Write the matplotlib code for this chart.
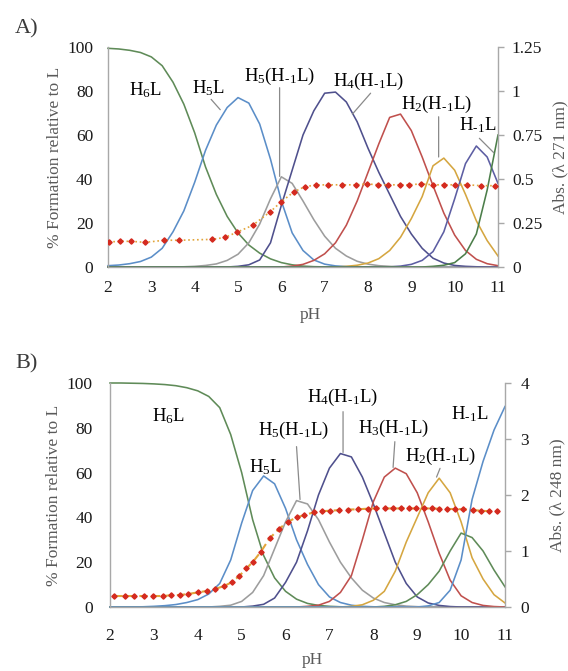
import matplotlib
matplotlib.use('Agg')
import matplotlib.pyplot as plt

plt.rcParams['font.family'] = ['Liberation Serif', 'DejaVu Serif']
plt.rcParams['mathtext.fontset'] = 'custom'
plt.rcParams['mathtext.rm'] = 'Liberation Serif'
plt.rcParams['mathtext.it'] = 'Liberation Serif:italic'
plt.rcParams['mathtext.bf'] = 'Liberation Serif:bold'

# ---------------- data ----------------
ph = [2.0, 2.25, 2.5, 2.75, 3.0, 3.25, 3.5, 3.75, 4.0, 4.25, 4.5, 4.75, 5.0, 5.25,
      5.5, 5.75, 6.0, 6.25, 6.5, 6.75, 7.0, 7.25, 7.5, 7.75, 8.0, 8.25, 8.5, 8.75,
      9.0, 9.25, 9.5, 9.75, 10.0, 10.25, 10.5, 10.75, 11.0]

# Panel A species (% formation)
a_H6L = [99.4, 99.1, 98.5, 97.5, 95.5, 91.5, 84, 74, 61, 45.5, 33, 23, 15.5, 10, 6.3, 3.7,
         2, 1, 0.4, 0.15, 0.05] + [0] * 16
a_H5L = [0.6, 0.9, 1.5, 2.5, 4.5, 8.5, 16, 25.5, 38.5, 53, 64.5, 72.5, 77, 74.5, 65, 49,
         30, 15.5, 7.5, 3.2, 1.3, 0.5, 0.2, 0.05] + [0] * 13
a_H5HL = [0] * 7 + [0.1, 0.3, 0.7, 1.4, 3, 5.8, 11, 19.5, 31, 41, 38, 30, 21.5, 14, 8.5, 5,
                    2.6, 1.3, 0.6, 0.3, 0.1] + [0] * 9
a_H4HL = [0] * 12 + [0.3, 1, 3.2, 11, 28, 44, 60, 71, 79, 79.5, 75, 66, 54, 43, 33, 23, 15,
                     8.5, 4, 1.8, 0.7, 0.3, 0.1, 0, 0]
a_H3HL = [0] * 17 + [0.4, 1.2, 3, 6, 11, 19, 30, 43, 56, 68, 69.5, 62, 50, 37, 24.5, 14.5,
                     7.5, 3.5, 1.5, 0.6]
a_H2HL = [0] * 22 + [0.3, 0.8, 1.8, 3.8, 7.5, 13.5, 22, 32, 46, 49.5, 44, 33, 21, 12, 5]
a_HHL = [0] * 27 + [0.4, 1.2, 3, 7, 16, 31, 47, 55, 50, 38]
a_Hm1L = [0] * 30 + [0.3, 0.8, 2, 6, 15, 35, 60]

# Panel A absorbance (271 nm)
a_abs_ph = [2.02, 2.27, 2.53, 2.86, 3.30, 3.63, 4.40, 4.70, 4.97, 5.34, 5.75, 6.00, 6.29,
            6.54, 6.79, 7.08, 7.40, 7.73, 7.97, 8.24, 8.47, 8.73, 8.94, 9.22, 9.51, 9.76,
            10.01, 10.29, 10.61, 10.92]
a_abs = [0.142, 0.146, 0.146, 0.140, 0.152, 0.152, 0.157, 0.168, 0.197, 0.237, 0.315,
         0.371, 0.427, 0.456, 0.466, 0.467, 0.467, 0.467, 0.472, 0.467, 0.467, 0.467,
         0.467, 0.472, 0.467, 0.467, 0.467, 0.467, 0.462, 0.462]

# Panel B species (% formation)
b_H6L = [100, 100, 99.9, 99.8, 99.6, 99.3, 98.8, 97.9, 96.5, 94, 89, 77, 60, 39, 23, 13,
         7, 3.5, 1.6, 0.7, 0.3, 0.1] + [0] * 15
b_H5L = [0, 0, 0.05, 0.1, 0.3, 0.6, 1.1, 2, 3.3, 5.8, 10.5, 21, 37.5, 52, 58.5, 55, 44,
         30, 19, 10, 4.5, 2, 0.8, 0.3, 0.1] + [0] * 12
b_H5HL = [0] * 10 + [0.3, 0.8, 2.5, 6.5, 14, 26, 38, 47.5, 46, 39, 29, 20, 13, 7.5, 4, 2,
                     1, 0.4, 0.15] + [0] * 8
b_H4HL = [0] * 13 + [0.4, 1.2, 4, 11, 20, 34, 50, 62, 68.5, 67, 58, 46, 33, 20, 10.5, 4.5,
                     1.8, 0.7, 0.2] + [0] * 5
b_H3HL = [0] * 18 + [0.3, 0.8, 2.5, 6.5, 14, 30, 47, 58, 62, 59.5, 51, 38, 24, 12, 5, 2,
                     0.7, 0.2, 0]
b_H2HL = [0] * 22 + [0.3, 1, 3, 7, 16, 29, 40, 51, 57.5, 51, 38, 22, 12.5, 5.5, 1.8]
b_HHL = [0] * 25 + [0.3, 1, 2.5, 5.5, 10, 16, 25, 33, 31, 25, 16.5, 9]
b_Hm1L = [0] * 29 + [0.5, 2, 7.5, 21, 48, 65, 79, 89.5]

# Panel B absorbance (248 nm)
b_abs_ph = [2.10, 2.34, 2.55, 2.77, 2.99, 3.21, 3.39, 3.59, 3.78, 4.01, 4.20, 4.39, 4.60,
            4.77, 4.94, 5.11, 5.26, 5.44, 5.64, 5.86, 6.05, 6.25, 6.42, 6.64, 6.82, 7.02,
            7.22, 7.43, 7.64, 7.87, 8.07, 8.26, 8.45, 8.64, 8.81, 8.97, 9.16, 9.33, 9.49,
            9.67, 9.86, 10.05, 10.26, 10.45, 10.63, 10.81]
b_abs = [0.196, 0.196, 0.196, 0.196, 0.196, 0.196, 0.21, 0.214, 0.232, 0.262, 0.286, 0.32,
         0.375, 0.44, 0.55, 0.69, 0.81, 0.99, 1.23, 1.40, 1.52, 1.60, 1.64, 1.69, 1.71,
         1.72, 1.73, 1.74, 1.745, 1.755, 1.76, 1.76, 1.76, 1.76, 1.76, 1.76, 1.76, 1.76,
         1.755, 1.75, 1.75, 1.745, 1.73, 1.72, 1.71, 1.71]

x_ticks = [2, 3, 4, 5, 6, 7, 8, 9, 10, 11]
a_left_ticks = [0, 20, 40, 60, 80, 100]
a_right_ticks = [0, 0.25, 0.5, 0.75, 1, 1.25]
a_right_labels = ['0', '0.25', '0.5', '0.75', '1', '1.25']
b_left_ticks = [0, 20, 40, 60, 80, 100]
b_right_ticks = [0, 1, 2, 3, 4]

# ---------------- style ----------------
C_GREEN = '#5f8b58'
C_GREEN2 = '#4c7e4a'
C_BLUE = '#5b8ec8'
C_GRAY = '#9d9d9d'
C_NAVY = '#4f508d'
C_RED = '#c0504d'
C_YEL = '#d5a640'
C_PURP = '#5d5ea3'
C_DOT = '#d42a1f'
C_DLINE = '#e2a53a'
SPINE = '#a8a8a8'
LBL = '#5a5a5a'
PTR = '#8a8a8a'

W, H = 568, 671
fig = plt.figure(figsize=(W / 100, H / 100), dpi=100)


def setup(ax, ax2, pad_left, pad_bottom, pad_right):
    ax.set_xlim(2, 11)
    ax.set_ylim(0, 100)
    ax.set_xticks(x_ticks)
    for s in ['top', 'right']:
        ax.spines[s].set_visible(False)
    for s in ['left', 'bottom']:
        ax.spines[s].set_color(SPINE)
        ax.spines[s].set_linewidth(1.0)
    ax.tick_params(axis='y', length=0, pad=pad_left, labelsize=12.5, labelcolor='#1a1a1a')
    ax.tick_params(axis='x', length=0, pad=pad_bottom, labelsize=12.5, labelcolor='#1a1a1a')
    for s in ['top', 'left', 'bottom']:
        ax2.spines[s].set_visible(False)
    ax2.spines['right'].set_color(SPINE)
    ax2.spines['right'].set_linewidth(1.0)
    ax2.tick_params(axis='y', length=4, width=1.0, color=SPINE, pad=pad_right,
                    labelsize=12.5, labelcolor='#1a1a1a')


def pointer(ax, p0, p1):
    ax.annotate('', xy=p1, xytext=p0,
                arrowprops=dict(arrowstyle='-', color=PTR, lw=0.9, shrinkA=0, shrinkB=0))


LW = 1.15
TFS = 13.5
MS = 2.7
SUB = r'$_{\text{-}1}$'

# ---------------- Panel A ----------------
axA = fig.add_axes([108 / W, 1 - 267 / H, 390 / W, 220 / H])
axA2 = axA.twinx()
setup(axA, axA2, 10.5, 9.5, 6)
axA.set_yticks(a_left_ticks)
axA2.set_ylim(0, 1.25)
axA2.set_yticks(a_right_ticks)
axA2.set_yticklabels(a_right_labels)

for vals, col in [(a_H6L, C_GREEN), (a_H5L, C_BLUE), (a_H5HL, C_GRAY), (a_H4HL, C_NAVY),
                  (a_H3HL, C_RED), (a_H2HL, C_YEL), (a_HHL, C_PURP), (a_Hm1L, C_GREEN2)]:
    axA.plot(ph, vals, color=col, lw=LW, solid_joinstyle='round', clip_on=False)

axA2.plot(a_abs_ph, a_abs, color=C_DLINE, lw=1.2, ls=':', zorder=3)
axA2.plot(a_abs_ph, a_abs, ls='none', marker='D', ms=MS, color=C_DOT, mec=C_DOT, zorder=4)

axA.text(2.86, 80.5, 'H$_6$L', fontsize=TFS, ha='center', va='center')
axA.text(4.31, 81.5, 'H$_5$L', fontsize=TFS, ha='center', va='center')
axA.text(5.96, 86.5, 'H$_5$(H' + SUB + 'L)', fontsize=TFS, ha='center', va='center')
axA.text(8.02, 84.5, 'H$_4$(H' + SUB + 'L)', fontsize=TFS, ha='center', va='center')
axA.text(9.59, 74.0, 'H$_2$(H' + SUB + 'L)', fontsize=TFS, ha='center', va='center')
axA.text(10.54, 64.5, 'H' + SUB + 'L', fontsize=TFS, ha='center', va='center')
pointer(axA, (4.38, 76.2), (4.59, 71.5))
pointer(axA, (5.96, 81.5), (5.96, 41.2))
pointer(axA, (8.06, 79.0), (7.64, 69.5))
pointer(axA, (9.63, 68.3), (9.63, 50.0))
pointer(axA, (10.57, 58.5), (10.9, 52.0))

fig.text(55 / W, 1 - 157 / H, '% Formation relative to L', rotation=90, ha='center',
         va='center', fontsize=12.5, color=LBL)
fig.text(560 / W, 1 - 157 / H, 'Abs. (λ 271 nm)', rotation=90, ha='center',
         va='center', fontsize=12.5, color=LBL)
fig.text(310 / W, 1 - 315 / H, 'pH', ha='center', va='center', fontsize=12.5, color=LBL)
fig.text(15 / W, 1 - 29 / H, 'A)', ha='left', va='center', fontsize=16, color='#3a3a3a')

# ---------------- Panel B ----------------
axB = fig.add_axes([110 / W, 1 - 607 / H, 395 / W, 224 / H])
axB2 = axB.twinx()
setup(axB, axB2, 12.5, 15, 7)
axB.set_yticks(b_left_ticks)
axB2.set_ylim(0, 4)
axB2.set_yticks(b_right_ticks)

for vals, col in [(b_H6L, C_GREEN), (b_H5L, C_BLUE), (b_H5HL, C_GRAY), (b_H4HL, C_NAVY),
                  (b_H3HL, C_RED), (b_H2HL, C_YEL), (b_HHL, C_GREEN), (b_Hm1L, C_BLUE)]:
    axB.plot(ph, vals, color=col, lw=LW, solid_joinstyle='round', clip_on=False)

axB2.plot(b_abs_ph, b_abs, color=C_DLINE, lw=1.5, ls=(0, (4, 2)), zorder=3)
axB2.plot(b_abs_ph, b_abs, ls='none', marker='D', ms=MS, color=C_DOT, mec=C_DOT, zorder=4)

axB.text(3.34, 85.3, 'H$_6$L', fontsize=TFS, ha='center', va='center')
axB.text(5.55, 62.5, 'H$_5$L', fontsize=TFS, ha='center', va='center')
axB.text(6.19, 78.6, 'H$_5$(H' + SUB + 'L)', fontsize=TFS, ha='center', va='center')
axB.text(7.30, 93.5, 'H$_4$(H' + SUB + 'L)', fontsize=TFS, ha='center', va='center')
axB.text(8.46, 79.7, 'H$_3$(H' + SUB + 'L)', fontsize=TFS, ha='center', va='center')
axB.text(9.52, 67.4, 'H$_2$(H' + SUB + 'L)', fontsize=TFS, ha='center', va='center')
axB.text(10.20, 85.9, 'H' + SUB + 'L', fontsize=TFS, ha='center', va='center')
pointer(axB, (6.25, 71.6), (6.33, 48.0))
pointer(axB, (7.31, 87.2), (7.31, 69.0))
pointer(axB, (8.49, 73.8), (8.45, 62.3))
pointer(axB, (9.52, 61.9), (9.44, 58.0))

fig.text(54 / W, 1 - 495 / H, '% Formation relative to L', rotation=90, ha='center',
         va='center', fontsize=12.5, color=LBL)
fig.text(557 / W, 1 - 495 / H, 'Abs. (λ 248 nm)', rotation=90, ha='center',
         va='center', fontsize=12.5, color=LBL)
fig.text(312 / W, 1 - 660 / H, 'pH', ha='center', va='center', fontsize=12.5, color=LBL)
fig.text(15 / W, 1 - 364 / H, 'B)', ha='left', va='center', fontsize=16, color='#3a3a3a')

fig.savefig('out.png', dpi=100)
